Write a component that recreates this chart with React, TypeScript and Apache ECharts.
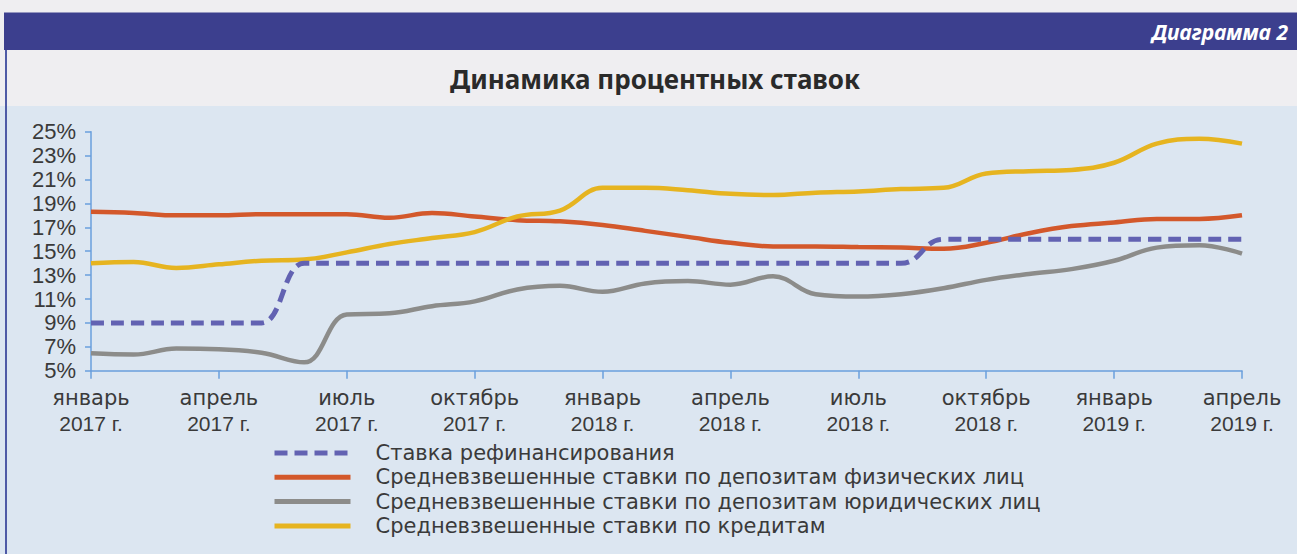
import React, { useEffect, useRef } from "react";
import * as echarts from "echarts";

const monthLabels: string[] = [
  "январь", "февраль", "март", "апрель", "май", "июнь", "июль", "август", "сентябрь", "октябрь", "ноябрь", "декабрь",
  "январь", "февраль", "март", "апрель", "май", "июнь", "июль", "август", "сентябрь", "октябрь", "ноябрь", "декабрь",
  "январь", "февраль", "март", "апрель",
];
const yearLabels: string[] = [
  "2017 г.", "2017 г.", "2017 г.", "2017 г.", "2017 г.", "2017 г.", "2017 г.", "2017 г.", "2017 г.", "2017 г.", "2017 г.", "2017 г.",
  "2018 г.", "2018 г.", "2018 г.", "2018 г.", "2018 г.", "2018 г.", "2018 г.", "2018 г.", "2018 г.", "2018 г.", "2018 г.", "2018 г.",
  "2019 г.", "2019 г.", "2019 г.", "2019 г.",
];
const categories: string[] = monthLabels.map((m, i) => m + "\n" + yearLabels[i]);

const seriesNames: string[] = [
  "Ставка рефинансирования",
  "Средневзвешенные ставки по депозитам физических лиц",
  "Средневзвешенные ставки по депозитам юридических лиц",
  "Средневзвешенные ставки по кредитам",
];

const refinancing: number[] = [
  9, 9, 9, 9, 9, 14, 14, 14, 14, 14, 14, 14, 14, 14, 14, 14, 14, 14, 14, 14, 16, 16, 16, 16, 16, 16, 16, 16,
];
const depositsIndividuals: number[] = [
  18.3, 18.2, 18.0, 18.0, 18.1, 18.1, 18.1, 17.8, 18.2, 17.9, 17.6, 17.5, 17.2, 16.7, 16.2, 15.7, 15.4, 15.4,
  15.35, 15.3, 15.2, 15.7, 16.5, 17.1, 17.4, 17.7, 17.7, 18.0,
];
const depositsLegal: number[] = [
  6.45, 6.35, 6.85, 6.8, 6.5, 5.7, 9.7, 9.8, 10.4, 10.8, 11.8, 12.1, 11.6, 12.3, 12.5, 12.2, 12.9, 11.4, 11.2,
  11.4, 11.9, 12.6, 13.1, 13.5, 14.2, 15.3, 15.5, 14.8,
];
const credits: number[] = [
  14.0, 14.1, 13.6, 13.9, 14.2, 14.3, 14.9, 15.6, 16.1, 16.6, 17.9, 18.4, 20.3, 20.3, 20.1, 19.8, 19.7, 19.9,
  20.0, 20.2, 20.3, 21.5, 21.7, 21.8, 22.4, 24.0, 24.4, 24.0,
];

const colors = ["#6262b2", "#d3582b", "#8c8c8a", "#e6b420"];

export default function App() {
  const ref = useRef<HTMLDivElement>(null);
  useEffect(() => {
    if (!ref.current) return;
    const chart = echarts.init(ref.current, null, { renderer: "svg" });
    const font = "'Liberation Sans', Arial, sans-serif";
    const wide = "'DejaVu Sans', sans-serif";
    const option: any = {
      animation: false,
      backgroundColor: "#efeef1",
      graphic: {
        elements: [
          { type: "rect", z: -10, shape: { x: 0, y: 106, width: 1297, height: 448 }, style: { fill: "#dce6f1" } },
          { type: "rect", z: -9, shape: { x: 4, y: 12.5, width: 1293, height: 37.5 }, style: { fill: "#3c3f8e" } },
          { type: "rect", z: -9, shape: { x: 5, y: 50, width: 2, height: 504 }, style: { fill: "#4e5aa6" } },
          {
            type: "text", z: 5, x: 1288, y: 32,
            style: {
              text: "Диаграмма 2", fill: "#ffffff", font: "italic bold 21px 'Noto Sans', sans-serif",
              align: "right", verticalAlign: "middle",
            },
          },
          {
            type: "text", z: 5, x: 655, y: 79,
            style: {
              text: "Динамика процентных ставок", fill: "#2a2a2a", font: "bold 26px 'Noto Sans', sans-serif",
              align: "center", verticalAlign: "middle",
            },
          },
        ],
      },
      grid: { left: 91, right: 55, top: 131.7, bottom: 183.3, containLabel: false },
      legend: {
        orient: "vertical",
        left: 272,
        top: 442.5,
        height: 110,
        padding: 0,
        itemWidth: 76,
        itemHeight: 14,
        itemGap: 3.3,
        data: seriesNames,
        itemStyle: { opacity: 0, color: "transparent", borderWidth: 0 },
        lineStyle: { width: 5 },
        textStyle: { fontFamily: wide, fontSize: 21, color: "#3a3a3a", padding: [0, 0, 0, 20] },
      },
      xAxis: {
        type: "category",
        boundaryGap: false,
        data: categories,
        axisLine: { lineStyle: { color: "#6a9fdc", width: 1.5 } },
        axisTick: { show: true, interval: 2, length: 8, lineStyle: { color: "#6a9fdc", width: 1.5 } },
        axisLabel: {
          interval: 2,
          margin: 15,
          formatter: (v: string) => {
            const parts = v.split("\n");
            return "{m|" + parts[0] + "}\n{y|" + parts[1] + "}";
          },
          rich: {
            m: { fontFamily: wide, fontSize: 21, color: "#3a3a3a", lineHeight: 25 },
            y: { fontFamily: font, fontSize: 21, color: "#3a3a3a", lineHeight: 25 },
          },
        },
        splitLine: { show: false },
      },
      yAxis: {
        type: "value",
        min: 5,
        max: 25,
        interval: 2,
        axisLine: { show: true, lineStyle: { color: "#6a9fdc", width: 1.5 } },
        axisTick: { show: true, length: 6, lineStyle: { color: "#6a9fdc", width: 1.5 } },
        axisLabel: { formatter: "{value}%", margin: 15, fontFamily: font, fontSize: 22, color: "#3a3a3a" },
        splitLine: { show: false },
      },
      series: [
        {
          name: seriesNames[0], type: "line", data: refinancing, symbol: "none", smooth: 0.5, smoothMonotone: "x",
          z: 6, lineStyle: { color: colors[0], width: 5, type: [13, 7] }, itemStyle: { color: colors[0] },
        },
        {
          name: seriesNames[1], type: "line", data: depositsIndividuals, symbol: "none", smooth: 0.4,
          z: 4, lineStyle: { color: colors[1], width: 4.5 }, itemStyle: { color: colors[1] },
        },
        {
          name: seriesNames[2], type: "line", data: depositsLegal, symbol: "none", smooth: 0.4,
          z: 3, lineStyle: { color: colors[2], width: 4.5 }, itemStyle: { color: colors[2] },
        },
        {
          name: seriesNames[3], type: "line", data: credits, symbol: "none", smooth: 0.4,
          z: 5, lineStyle: { color: colors[3], width: 4.5 }, itemStyle: { color: colors[3] },
        },
      ],
    };
    chart.setOption(option);
    return () => chart.dispose();
  }, []);
  return (
    <div
      ref={ref}
      style={{ position: "absolute", left: 0, top: 0, width: 1297, height: 554 }}
    />
  );
}
